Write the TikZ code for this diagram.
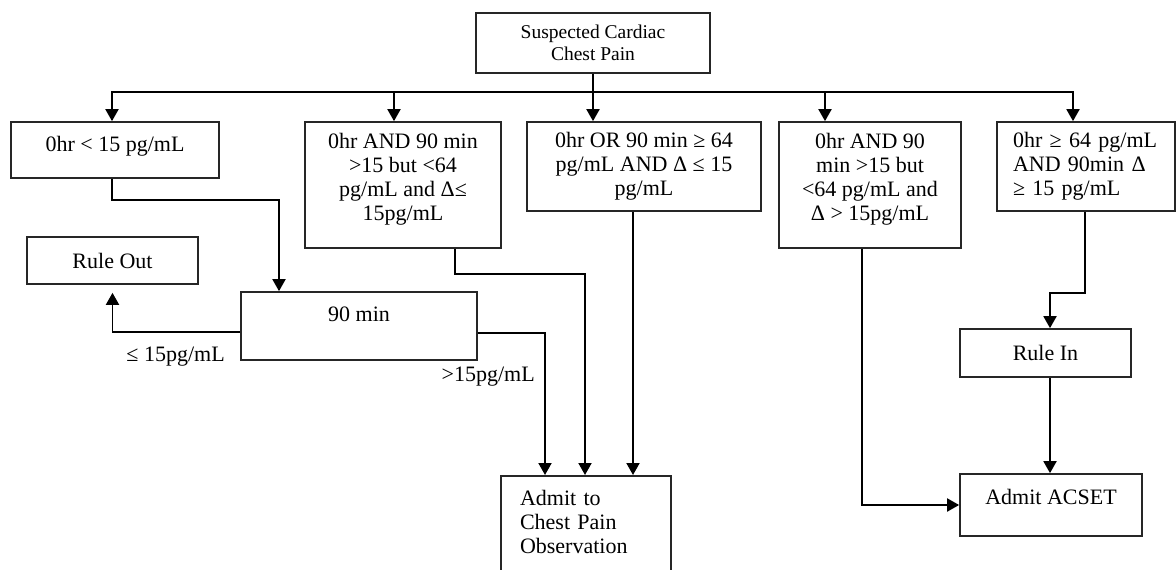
\documentclass[tikz,border=0pt]{standalone}
\usepackage{fontspec}
\setmainfont{Liberation Serif}
\usetikzlibrary{arrows.meta}

\begin{document}
\begin{tikzpicture}[x=1pt, y=-1pt, line width=1.9pt,
    box/.style={draw=black!85, line width=1.7pt, align=center, inner sep=0pt, font=\fontsize{22}{24}\selectfont},
    arr/.style={-{Triangle[length=12pt,width=13pt]}},
    lbl/.style={font=\fontsize{22}{24}\selectfont}]
    \useasboundingbox (0,0) rectangle (1176,570);
    \clip (0,0) rectangle (1176,570);

    \node[box, minimum width=234pt, minimum height=60pt, font=\fontsize{19.5}{22}\selectfont] (top) at (593,43) {Suspected Cardiac\\Chest Pain};
    \node[box, minimum width=208pt, minimum height=56pt, text depth=13pt] (b1) at (115,150) {0hr < 15 pg/mL};
    \node[box, minimum width=196pt, minimum height=126pt, text depth=17pt] (b2) at (403,185) {0hr AND 90 min\\>15 but <64\\pg/mL and Δ≤\\15pg/mL};
    \node[box, minimum width=234pt, minimum height=89pt] (b3) at (644,166.5) {0hr OR 90 min ≥ 64\\pg/mL AND Δ ≤ 15\\pg/mL};
    \node[box, minimum width=182pt, minimum height=126pt, text depth=17pt] (b4) at (870,185) {0hr AND 90\\min >15 but\\<64 pg/mL and\\Δ > 15pg/mL};
    \node[box, align=left, text width=146pt, minimum width=178pt, minimum height=89pt] (b5) at (1086,166.5) {0hr ≥ 64 pg/mL\\AND 90min Δ\\≥ 15 pg/mL};

    \node[box, minimum width=171pt, minimum height=47pt] (ruleout) at (112.5,260.5) {Rule Out};
    \node[box, minimum width=236pt, minimum height=68pt, text depth=24pt] (n90) at (359,326) {90 min};
    \node[box, minimum width=171pt, minimum height=48pt] (rulein) at (1045.5,353) {Rule In};
    \node[box, minimum width=182pt, minimum height=62pt, text depth=16pt] (acset) at (1051,505) {Admit ACSET};
    \node[box, anchor=north, align=left, text width=132pt, minimum width=170pt, minimum height=110pt, text depth=66pt] (obs) at (586,475) {Admit to\\Chest Pain\\Observation};

    \node[lbl, anchor=east] (low) at (229,357) {≤ 15pg/mL};
    \node[lbl, anchor=east] (high) at (539,377) {>15pg/mL};

    \foreach \n/\d in {b1/-3, b2/-9, b3/-51, b4/-45, b5/-13}
      \draw[arr] (top.south) -- ++(0,18) -| ([xshift=\d pt]\n.north);

    \draw[arr] ([xshift=-3pt]b1.south) -- ++(0,21) -| ([xshift=-80pt]n90.north);
    \draw[arr] ([yshift=-6pt]n90.west) -| ([yshift=-8pt]ruleout.south);
    \draw[arr] ([yshift=-7pt]n90.east) -| ([xshift=-41pt]obs.north);
    \draw[arr] ([xshift=52pt]b2.south) -- ++(0,25) -| ([xshift=-1pt]obs.north);
    \draw[arr] ([xshift=-11pt]b3.south) -- ([xshift=47pt]obs.north);
    \draw[arr] ([xshift=-8pt]b4.south) |- (acset.west);
    \draw[arr] ([xshift=-1pt]b5.south) -- ++(0,81) -| ([xshift=4.5pt]rulein.north);
    \draw[arr] ([xshift=4.5pt]rulein.south) -- ([xshift=-1pt]acset.north);
\end{tikzpicture}
\end{document}
